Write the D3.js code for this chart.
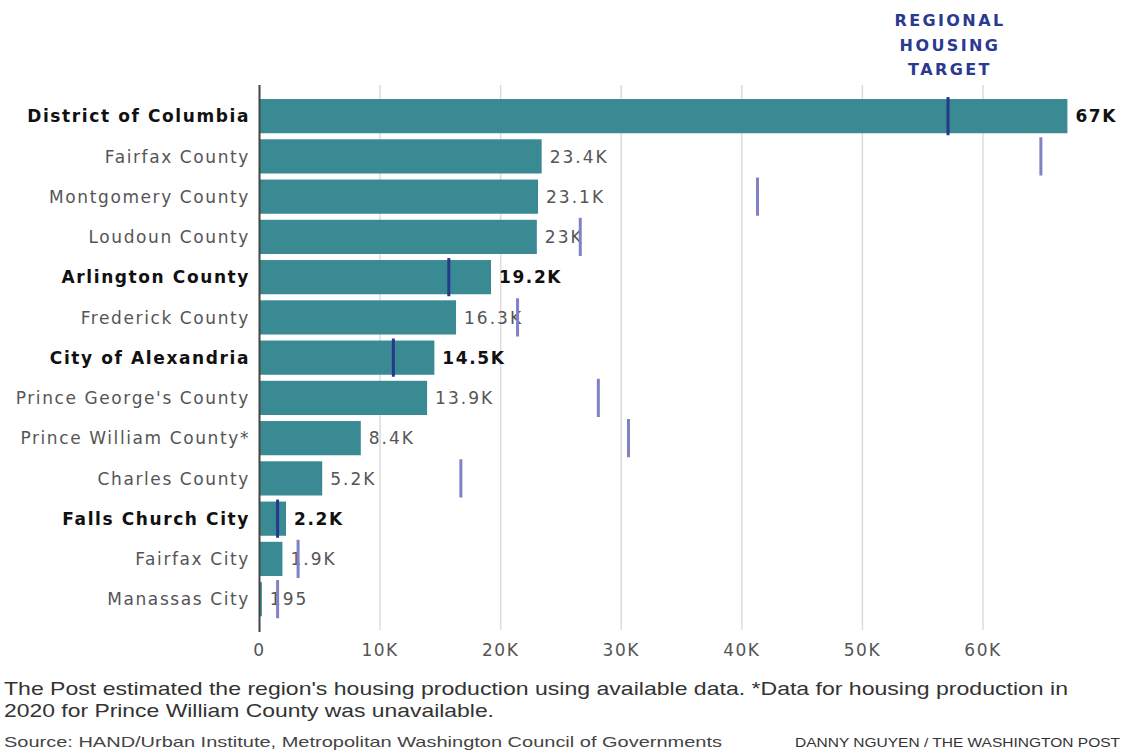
<!DOCTYPE html>
<html>
<head>
<meta charset="utf-8">
<script src="https://cdn.jsdelivr.net/npm/d3@7"></script>
<style>
  body { margin: 0; background: #fff; }
  svg { display: block; }
</style>
</head>
<body>
<div id="chart"></div>
<script>
const places = ['District of Columbia', 'Fairfax County', 'Montgomery County', 'Loudoun County',
  'Arlington County', 'Frederick County', 'City of Alexandria', "Prince George's County",
  'Prince William County*', 'Charles County', 'Falls Church City', 'Fairfax City', 'Manassas City'];
const produced = [67000, 23400, 23100, 23000, 19200, 16300, 14500, 13900, 8400, 5200, 2200, 1900, 195];
const producedLabels = ['67K', '23.4K', '23.1K', '23K', '19.2K', '16.3K', '14.5K', '13.9K', '8.4K', '5.2K', '2.2K', '1.9K', '195'];
const targets = [57100, 64800, 41300, 26600, 15700, 21400, 11100, 28100, 30600, 16700, 1500, 3200, 1500];
const xTicks = [0, 10000, 20000, 30000, 40000, 50000, 60000];
const tickLabels = ['0', '10K', '20K', '30K', '40K', '50K', '60K'];

const w = 1125;
const h = 750;
const font = "'DejaVu Sans', sans-serif";

const rows = places.map((p, i) => ({
  name: p, value: produced[i], label: producedLabels[i], target: targets[i],
  met: produced[i] >= targets[i]
}));

const svg = d3.select('#chart').append('svg')
  .attr('width', w)
  .attr('height', h);

const x = d3.scaleLinear().domain([0, 60000]).range([259.5, 983]);
const y = d3.scaleBand().domain(places).range([93, 622.3]).padding(0.15);

// gridlines
svg.append('g').selectAll('line')
  .data(xTicks.slice(1))
  .enter().append('line')
  .attr('x1', d => x(d)).attr('x2', d => x(d))
  .attr('y1', 85).attr('y2', 630)
  .attr('stroke', '#dcdcdc')
  .attr('stroke-width', 1.5);

svg.append('g').selectAll('text')
  .data(xTicks)
  .enter().append('text')
  .attr('x', d => x(d))
  .attr('y', 656)
  .attr('text-anchor', 'middle')
  .style('font-family', font)
  .style('font-size', '17px')
  .style('letter-spacing', '1.5px')
  .attr('fill', '#555')
  .text((d, i) => tickLabels[i]);

// bars
svg.append('g').selectAll('rect')
  .data(rows)
  .enter().append('rect')
  .attr('x', x(0))
  .attr('y', d => y(d.name))
  .attr('width', d => x(d.value) - x(0))
  .attr('height', y.bandwidth())
  .attr('fill', '#3a8a94');

// axis line
svg.append('line')
  .attr('x1', x(0)).attr('x2', x(0))
  .attr('y1', 85).attr('y2', 632)
  .attr('stroke', '#444')
  .attr('stroke-width', 2);

// category labels
svg.append('g').selectAll('text')
  .data(rows)
  .enter().append('text')
  .attr('x', 250)
  .attr('y', d => y(d.name) + y.bandwidth() / 2)
  .attr('dy', '0.36em')
  .attr('text-anchor', 'end')
  .style('font-family', font)
  .style('font-size', '17px')
  .style('letter-spacing', d => d.met ? '1.6px' : '1.6px')
  .style('font-weight', d => d.met ? 'bold' : 'normal')
  .attr('fill', d => d.met ? '#111' : '#555')
  .text(d => d.name);

// value labels
svg.append('g').selectAll('text')
  .data(rows)
  .enter().append('text')
  .attr('x', d => x(d.value) + 8)
  .attr('y', d => y(d.name) + y.bandwidth() / 2)
  .attr('dy', '0.36em')
  .style('font-family', font)
  .style('font-size', '17px')
  .style('letter-spacing', d => d.met ? '1.6px' : '2px')
  .style('font-weight', d => d.met ? 'bold' : 'normal')
  .attr('fill', d => d.met ? '#111' : '#555')
  .text(d => d.label);

// target marks
svg.append('g').selectAll('line')
  .data(rows)
  .enter().append('line')
  .attr('x1', d => x(d.target)).attr('x2', d => x(d.target))
  .attr('y1', d => y(d.name) - 2)
  .attr('y2', d => y(d.name) + y.bandwidth() + 2)
  .attr('stroke', d => d.target <= d.value ? '#27378a' : '#7f82c4')
  .attr('stroke-width', 3);

// header
const head = svg.append('text')
  .attr('x', 950)
  .attr('text-anchor', 'middle')
  .style('font-family', font)
  .style('font-size', '16px')
  .style('font-weight', 'bold')
  .style('letter-spacing', '2.4px')
  .attr('fill', '#2b3990');
['REGIONAL', 'HOUSING', 'TARGET'].forEach((t, i) => {
  head.append('tspan').attr('x', 950).attr('y', 26 + i * 24.5).text(t);
});

// footer
const narrow = "'Liberation Sans Narrow', 'Arial Narrow', sans-serif";
const foot = (txt, xp, yp, size, len, color, anchor) => svg.append('text')
  .attr('x', xp).attr('y', yp)
  .attr('text-anchor', anchor || 'start')
  .attr('textLength', len)
  .attr('lengthAdjust', 'spacingAndGlyphs')
  .style('font-family', narrow)
  .style('font-size', size)
  .attr('fill', color)
  .text(txt);
foot("The Post estimated the region's housing production using available data. *Data for housing production in", 4, 695, '19px', 1064, '#333');
foot('2020 for Prince William County was unavailable.', 4, 717, '19px', 490, '#333');
foot('Source: HAND/Urban Institute, Metropolitan Washington Council of Governments', 4, 747, '15px', 718, '#444');
foot('DANNY NGUYEN / THE WASHINGTON POST', 1120, 747, '13px', 325, '#333', 'end');
</script>
</body>
</html>
